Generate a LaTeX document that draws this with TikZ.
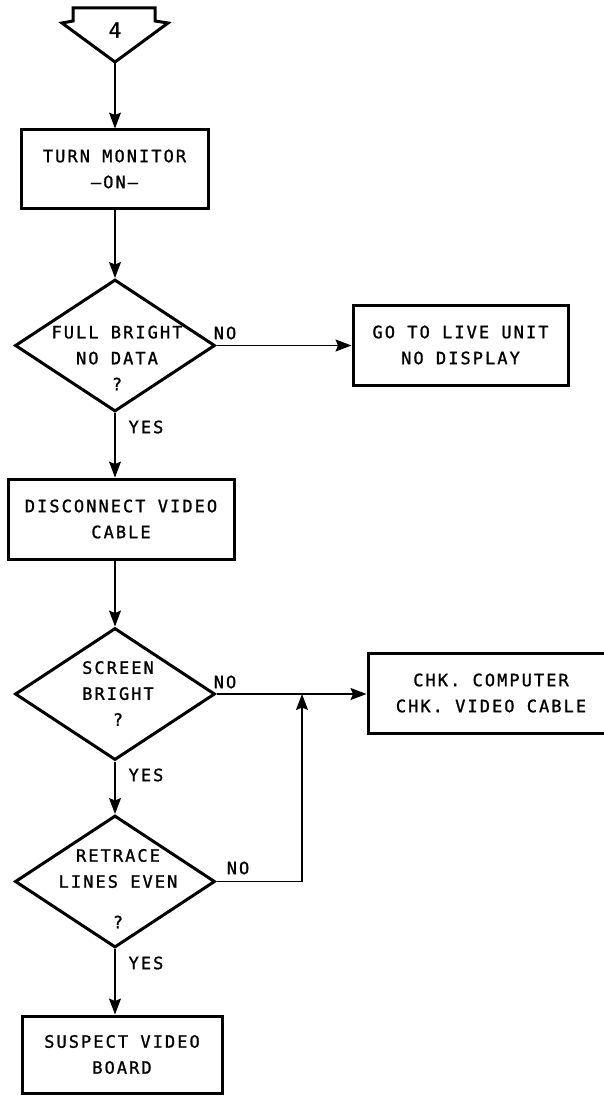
\documentclass[tikz,border=0pt]{standalone}
\usepackage{fontspec}
\newfontfamily\lettering[LetterSpace=12,FakeBold=1.2]{DejaVu Sans Mono}
\usetikzlibrary{shapes.geometric,arrows.meta}
\begin{document}
\begin{tikzpicture}[x=1pt,y=-1pt,
  every node/.style={font=\lettering\fontsize{17}{26}\selectfont},
  fig/.style={draw, line width=3pt, inner sep=0pt, align=center},
  box/.style={fig, rectangle},
  dia/.style={fig, diamond, aspect=1.5, minimum width=200pt, minimum height=132pt},
  lbl/.style={inner sep=0pt, align=center},
  arr/.style={line width=1.2pt, -{Stealth[length=16pt,width=12pt,inset=2.5pt]}}]
\useasboundingbox (0,0) rectangle (603,1097);
% off-page connector
\draw[line width=3pt, line join=miter] (73,8) -- (73,21) -- (62,23) -- (115,62) -- (168,23) -- (155,21) -- (155,8) -- cycle;
\node[lbl, font=\lettering\fontsize{21}{26}\selectfont] (n4) at (115,30) {4};
\coordinate (c4) at (115,62);
% nodes
\node[box, minimum width=187pt, minimum height=78pt] (b1) at (114.5,169) {TURN MONITOR\\–ON–};
\node[dia] (d1) at (115,345.5) {};
\node[lbl] (t1) at (117,358) {FULL BRIGHT\\NO DATA\\?};
\node[box, minimum width=215pt, minimum height=80pt] (go) at (460.5,345) {GO TO LIVE UNIT\\NO DISPLAY};
\node[box, minimum width=226pt, minimum height=80pt] (b2) at (121,519) {DISCONNECT VIDEO\\CABLE};
\node[dia] (d2) at (115,694) {};
\node[lbl] (t2) at (118,693.5) {SCREEN\\BRIGHT\\?};
\node[box, minimum width=246pt, minimum height=80pt] (b3) at (491,693) {CHK. COMPUTER\\CHK. VIDEO CABLE};
\node[dia] (d3) at (115,881.5) {};
\node[lbl] (t3) at (118,868.5) {RETRACE\\LINES EVEN};
\node[lbl] (q3) at (118,922) {?};
\node[box, minimum width=200pt, minimum height=77pt] (b4) at (122,1054.5) {SUSPECT VIDEO\\BOARD};
\coordinate (j) at (302,694);
% connectors
\draw[arr] (c4) -- (c4 |- b1.north);
\draw[arr] (d1.north |- b1.south) -- (d1.north);
\draw[arr] (d1.east) -- (d1.east -| go.west);
\node[lbl] (no1) at (225,333) {NO};
\draw[arr] (d1.south) -- (d1.south |- b2.north);
\node[lbl] (y1) at (146,427) {YES};
\draw[arr] (d2.north |- b2.south) -- (d2.north);
\draw[arr] (d2.east) -- (d2.east -| b3.west);
\node[lbl] (no2) at (225,682) {NO};
\draw[arr] (d2.south) -- (d3.north);
\node[lbl] (y2) at (146,775) {YES};
\draw[arr] (d3.east) -| (j);
\node[lbl] (no3) at (238,868) {NO};
\draw[arr] (d3.south) -- (d3.south |- b4.north);
\node[lbl] (y3) at (146,963) {YES};
\end{tikzpicture}
\end{document}
